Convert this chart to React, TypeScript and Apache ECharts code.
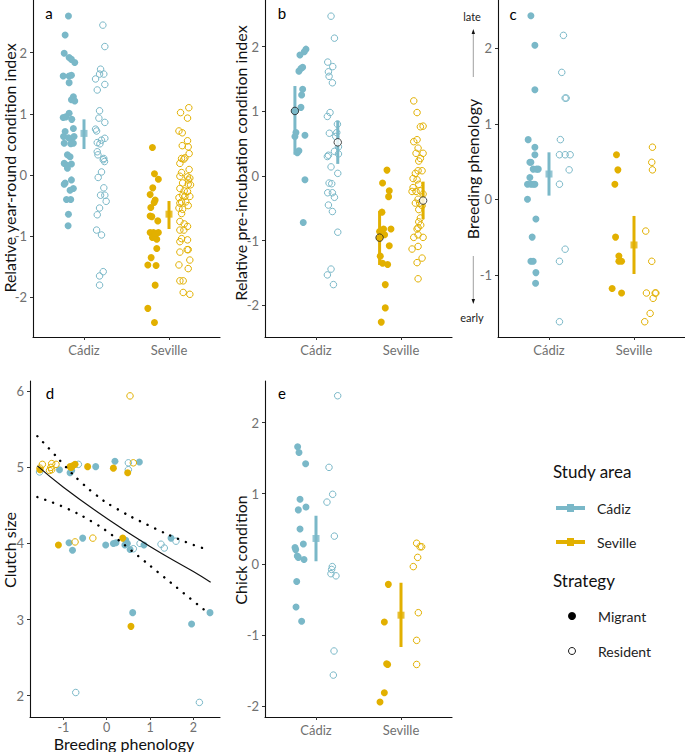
import React, { useEffect, useRef } from 'react';
import * as echarts from 'echarts';

const BLUE = '#7AB8C8';
const GOLD = '#E2B000';
const FONT = 'Lato';
const categories = ['Cádiz', 'Seville'];
const catTicks = [1, 2];
const yTicksA = [-2, -1, 0, 1, 2];
const yTicksC = [-1, 0, 1, 2];
const yTicksD = [2, 3, 4, 5, 6];
const xTicksD = [-1, 0, 1, 2];

// Panel a: relative year-round condition index
const aCadizMig = [[0.817,2.60],[0.778,2.29],[0.767,1.99],[0.825,1.92],[0.852,1.89],[0.891,1.84],[0.755,1.62],[0.825,1.62],[0.852,1.63],[0.825,1.51],[0.875,1.28],[0.852,1.23],[0.891,1.21],[0.825,1.01],[0.786,0.95],[0.755,0.94],[0.856,0.91],[0.875,0.76],[0.778,0.71],[0.759,0.63],[0.817,0.61],[0.852,0.58],[0.883,0.63],[0.767,0.52],[0.844,0.51],[0.875,0.52],[0.805,0.33],[0.836,0.30],[0.767,0.19],[0.798,0.16],[0.852,0.18],[0.805,0.11],[0.852,-0.08],[0.778,-0.13],[0.767,-0.15],[0.875,-0.22],[0.836,-0.25],[0.794,-0.40],[0.844,-0.40],[0.817,-0.64],[0.813,-0.83]];
const aCadizRes = [[1.222,2.45],[1.245,2.10],[1.195,1.73],[1.233,1.65],[1.183,1.65],[1.136,1.57],[1.245,1.48],[1.156,1.39],[1.183,1.05],[1.175,0.93],[1.245,0.86],[1.136,0.75],[1.148,0.72],[1.245,0.60],[1.206,0.57],[1.156,0.53],[1.187,0.51],[1.156,0.38],[1.164,0.33],[1.233,0.27],[1.226,0.25],[1.241,0.22],[1.206,0.05],[1.167,-0.04],[1.233,-0.21],[1.195,-0.33],[1.245,-0.33],[1.261,-0.43],[1.183,-0.54],[1.156,-0.65],[1.148,-0.90],[1.206,-0.98],[1.226,-1.58],[1.183,-1.65],[1.183,-1.80]];
const aSevMig = [[1.805,0.45],[1.829,0.02],[1.875,-0.07],[1.809,-0.21],[1.778,-0.32],[1.837,-0.41],[1.825,-0.45],[1.786,-0.53],[1.778,-0.67],[1.798,-0.68],[1.868,-0.75],[1.778,-0.94],[1.817,-0.94],[1.837,-0.98],[1.875,-0.94],[1.805,-1.02],[1.856,-1.05],[1.856,-1.20],[1.790,-1.35],[1.751,-1.47],[1.848,-1.48],[1.837,-1.80],[1.751,-2.18],[1.829,-2.41]];
const aSevRes = [[2.233,1.10],[2.136,1.02],[2.218,0.93],[2.117,0.72],[2.156,0.69],[2.218,0.56],[2.156,0.48],[2.226,0.46],[2.237,0.35],[2.148,0.27],[2.175,0.26],[2.187,0.28],[2.128,0.19],[2.237,0.09],[2.148,0.04],[2.128,-0.02],[2.218,-0.03],[2.245,-0.05],[2.226,-0.08],[2.160,-0.13],[2.226,-0.15],[2.253,-0.16],[2.128,-0.22],[2.179,-0.26],[2.218,-0.27],[2.160,-0.33],[2.117,-0.37],[2.187,-0.35],[2.245,-0.35],[2.148,-0.44],[2.128,-0.46],[2.198,-0.44],[2.226,-0.50],[2.117,-0.54],[2.160,-0.56],[2.148,-0.63],[2.128,-0.76],[2.179,-0.80],[2.218,-0.84],[2.128,-0.90],[2.175,-0.90],[2.148,-1.04],[2.128,-1.09],[2.218,-1.06],[2.214,-1.22],[2.226,-1.22],[2.245,-1.39],[2.128,-1.26],[2.226,-1.53],[2.117,-1.47],[2.128,-1.73],[2.167,-1.73],[2.167,-1.92],[2.245,-1.95]];
const aMeanX = [1.0, 2.0];
const aMean = [0.68, -0.64];
const aLo = [0.425, -0.883];
const aHi = [0.91, -0.425];

// Panel b: relative pre-incubation condition index
const bCadizMig = [[0.882,1.96],[0.862,1.92],[0.811,1.87],[0.843,1.68],[0.823,1.66],[0.799,1.62],[0.843,1.34],[0.831,1.25],[0.823,1.06],[0.752,1.00],[0.764,0.67],[0.752,0.61],[0.870,0.63],[0.780,0.36],[0.799,0.39],[0.870,-0.06],[0.850,-0.72]];
const bCadizRes = [[1.177,2.47],[1.217,2.13],[1.138,1.76],[1.197,1.69],[1.146,1.61],[1.154,1.54],[1.193,1.44],[1.165,0.98],[1.134,0.92],[1.157,0.66],[1.244,0.67],[1.252,0.80],[1.232,0.61],[1.264,0.45],[1.217,0.38],[1.264,0.34],[1.146,0.32],[1.134,0.30],[1.177,0.14],[1.256,0.04],[1.154,-0.11],[1.185,-0.12],[1.138,-0.26],[1.193,-0.26],[1.217,-0.33],[1.146,-0.45],[1.193,-0.55],[1.256,-0.87],[1.177,-1.44],[1.134,-1.53],[1.205,-1.68]];
const bSevMig = [[1.835,0.09],[1.783,-0.11],[1.862,-0.23],[1.854,-0.32],[1.776,-0.56],[1.795,-0.82],[1.748,-0.86],[1.882,-0.82],[1.807,-0.91],[1.748,-0.96],[1.862,-1.08],[1.756,-1.24],[1.783,-1.35],[1.843,-1.37],[1.815,-1.68],[1.815,-2.04],[1.768,-2.26]];
const bSevRes = [[2.150,1.16],[2.189,0.98],[2.228,0.76],[2.260,0.77],[2.150,0.53],[2.189,0.56],[2.201,0.43],[2.177,0.35],[2.260,0.35],[2.228,0.27],[2.209,0.23],[2.201,0.08],[2.248,0.08],[2.169,0.04],[2.142,-0.04],[2.189,-0.06],[2.209,-0.13],[2.142,-0.18],[2.130,-0.24],[2.177,-0.24],[2.228,-0.23],[2.260,-0.28],[2.201,-0.36],[2.169,-0.42],[2.220,-0.42],[2.209,-0.52],[2.248,-0.46],[2.228,-0.65],[2.209,-0.71],[2.232,-0.76],[2.201,-0.80],[2.189,-0.82],[2.150,-0.95],[2.201,-0.91],[2.260,-0.95],[2.130,-1.13],[2.201,-1.09],[2.189,-1.34],[2.248,-1.27],[2.201,-1.59]];
const bMeanX = [0.752, 1.256, 1.748, 2.26];
const bMean = [1.005, 0.52, -0.954, -0.381];
const bLo = [0.33, 0.186, -1.376, -0.67];
const bHi = [1.39, 0.856, -0.54, -0.088];

// Panel c: breeding phenology
const cCadizMig = [[0.787,2.43],[0.834,2.04],[0.834,1.45],[0.755,0.79],[0.834,0.69],[0.834,0.59],[0.775,0.49],[0.787,0.49],[0.814,0.40],[0.854,0.40],[0.874,0.40],[0.775,0.29],[0.747,0.20],[0.787,0.20],[0.814,0.20],[0.834,0.20],[0.747,0.00],[0.846,-0.26],[0.802,-0.50],[0.787,-0.82],[0.814,-0.82],[0.846,-0.97],[0.842,-1.11]];
const cCadizRes = [[1.170,2.17],[1.150,1.68],[1.190,1.34],[1.202,1.34],[1.134,0.79],[1.123,0.59],[1.190,0.59],[1.249,0.59],[1.237,0.39],[1.123,0.20],[1.190,-0.66],[1.123,-0.82],[1.123,-1.62]];
const cSevMig = [[1.794,0.59],[1.810,0.39],[1.775,0.20],[1.783,-0.50],[1.822,-0.75],[1.822,-0.82],[1.854,-0.82],[1.743,-1.18],[1.854,-1.24]];
const cSevRes = [[2.217,0.69],[2.209,0.49],[2.217,0.39],[2.138,-0.42],[2.209,-0.82],[2.146,-1.24],[2.249,-1.24],[2.257,-1.24],[2.225,-1.31],[2.190,-1.51],[2.126,-1.62]];
const cMeanX = [1.0, 2.0];
const cMean = [0.335, -0.604];
const cLo = [0.049, -0.988];
const cHi = [0.622, -0.22];

// Panel d: clutch size vs breeding phenology
const dCadizMig = [[-1.09,4.97],[-0.846,4.93],[-0.81,4.96],[-0.254,5.01],[0.19,5.08],[0.754,5.07],[-0.87,4.01],[-0.79,3.91],[-0.554,4.07],[-0.023,3.98],[0.154,4.0],[0.215,4.01],[0.44,4.04],[0.477,4.0],[0.42,3.98],[0.54,3.92],[0.86,3.98],[1.485,4.07],[0.6,3.09],[1.96,2.94],[2.385,3.09]];
const dCadizRes = [[-1.55,4.94],[-0.654,5.04],[0.5,5.06],[0.5,4.97],[0.77,4.0],[0.615,3.93],[1.254,3.99],[1.33,3.94],[1.6,4.03],[-0.715,2.04],[2.14,1.91]];
const dSevMig = [[-1.54,4.97],[-1.115,3.98],[-0.846,5.01],[-0.785,5.02],[-0.73,5.04],[-0.82,5.0],[-0.44,5.01],[0.154,4.99],[0.485,4.93],[0.37,4.07],[0.56,2.91]];
const dSevRes = [[0.538,5.94],[-1.485,5.04],[-1.27,5.05],[-1.17,5.04],[-1.29,5.0],[-1.27,4.97],[-1.32,4.96],[-1.54,4.99],[-0.73,4.02],[-0.32,4.07],[0.615,5.06]];
const fitX = [-1.6, -1, 0, 1, 2, 2.4];
const fitY = [5.02, 4.74, 4.33, 3.96, 3.63, 3.49];
const upX = [-1.6, -1.27, -0.95, -0.62, -0.25, 0.13, 0.96, 1.82, 2.27];
const upY = [5.41, 5.21, 5.01, 4.82, 4.64, 4.49, 4.24, 4.02, 3.93];
const loX = [-1.6, -0.92, -0.29, 0.1, 0.65, 1.21, 1.77, 2.31];
const loY = [4.61, 4.46, 4.27, 4.12, 3.87, 3.61, 3.35, 3.10];

// Panel e: chick condition
const eCadizMig = [[0.784,1.66],[0.800,1.58],[0.878,1.42],[0.812,0.92],[0.882,0.81],[0.792,0.77],[0.812,0.50],[0.851,0.29],[0.753,0.24],[0.761,0.21],[0.780,0.12],[0.792,0.10],[0.859,0.07],[0.773,-0.24],[0.765,-0.60],[0.831,-0.80]];
const eCadizRes = [[1.255,2.38],[1.153,1.37],[1.196,0.99],[1.129,0.88],[1.216,0.40],[1.192,-0.03],[1.184,-0.07],[1.176,-0.13],[1.235,-0.16],[1.212,-1.22],[1.204,-1.56]];
const eSevMig = [[1.851,-0.28],[1.804,-0.81],[1.831,-1.40],[1.843,-1.41],[1.804,-1.81],[1.753,-1.94]];
const eSevRes = [[2.184,0.30],[2.224,0.25],[2.243,0.25],[2.196,0.10],[2.145,-0.03],[2.204,-0.68],[2.184,-1.07],[2.184,-1.41]];
const eMeanX = [1.0, 2.0];
const eMean = [0.367, -0.715];
const eLo = [0.047, -1.162];
const eHi = [0.687, -0.259];

const grids = [
  { left: 33, top: 0, width: 187, height: 337 },
  { left: 265, top: 0, width: 187, height: 337 },
  { left: 498, top: 0, width: 187, height: 337 },
  { left: 30, top: 381, width: 190, height: 336 },
  { left: 265, top: 381, width: 187, height: 336 },
];
const yRanges = [[-2.648, 2.861], [-2.49, 2.72], [-1.822, 2.638], [1.718, 6.136], [-2.151, 2.588]];
const yTickSets = [yTicksA, yTicksA, yTicksC, yTicksD, yTicksA];

function pts(g: number, data: number[][], color: string, filled: boolean) {
  return {
    type: 'scatter', xAxisIndex: g, yAxisIndex: g, data, symbol: 'circle',
    symbolSize: filled ? 7 : 6.5, z: 2, silent: true,
    itemStyle: filled ? { color, opacity: 1 } : { color: 'rgba(255,255,255,0)', borderColor: color, borderWidth: 1, opacity: 1 },
  };
}
function bars(g: number, xs: number[], lo: number[], hi: number[], colors: string[]) {
  return xs.map((x, i) => ({
    type: 'line', xAxisIndex: g, yAxisIndex: g, data: [[x, lo[i]], [x, hi[i]]], symbol: 'none', silent: true,
    lineStyle: { color: colors[i], width: 3, cap: 'butt' }, z: 3,
  }));
}
function squares(g: number, xs: number[], m: number[], colors: string[]) {
  return xs.map((x, i) => ({
    type: 'scatter', xAxisIndex: g, yAxisIndex: g, data: [[x, m[i]]], symbol: 'rect', symbolSize: 7, silent: true,
    itemStyle: { color: colors[i] }, z: 4,
  }));
}

function txt(x: number, y: number, text: string, size: number, opts: any = {}) {
  return {
    type: 'text', x, y, rotation: opts.rotation || 0, silent: true,
    style: { text, fontSize: size, fontFamily: FONT, fill: opts.fill || '#000', fontWeight: opts.weight || 'normal', textAlign: opts.align || 'center', textVerticalAlign: 'middle' },
  };
}

export default function App() {
  const ref = useRef<HTMLDivElement>(null);
  useEffect(() => {
    if (!ref.current) return;
    const chart = echarts.init(ref.current, undefined, { renderer: 'svg' });
    const axisLine = { show: true, onZero: false, lineStyle: { color: '#111', width: 1.1 } };
    const xAxis = grids.map((_, g) => {
      const isD = g === 3;
      return {
        type: 'value', gridIndex: g, min: isD ? -1.771 : 0.4, max: isD ? 2.616 : 2.6,
        axisLine, splitLine: { show: false },
        axisTick: { show: true, length: 3, lineStyle: { color: '#333' }, customValues: isD ? xTicksD : catTicks },
        axisLabel: {
          show: true, customValues: isD ? xTicksD : catTicks, margin: isD ? 4 : 6,
          color: '#707070', fontSize: isD ? 12.5 : 13, fontFamily: FONT,
          formatter: (v: number) => (isD ? String(v) : categories[Math.round(v) - 1]),
        },
      };
    });
    const yAxis = grids.map((_, g) => ({
      type: 'value', gridIndex: g, min: yRanges[g][0], max: yRanges[g][1],
      axisLine, splitLine: { show: false },
      axisTick: { show: true, length: 3, lineStyle: { color: '#333' }, customValues: yTickSets[g] },
      axisLabel: { show: true, customValues: yTickSets[g], margin: 6, color: '#707070', fontSize: 13, fontFamily: FONT, formatter: (v: number) => String(v) },
    }));

    const series: any[] = [
      pts(0, aCadizMig, BLUE, true), pts(0, aCadizRes, BLUE, false), pts(0, aSevMig, GOLD, true), pts(0, aSevRes, GOLD, false),
      ...bars(0, aMeanX, aLo, aHi, [BLUE, GOLD]), ...squares(0, aMeanX, aMean, [BLUE, GOLD]),
      pts(1, bCadizMig, BLUE, true), pts(1, bCadizRes, BLUE, false), pts(1, bSevMig, GOLD, true), pts(1, bSevRes, GOLD, false),
      ...bars(1, bMeanX, bLo, bHi, [BLUE, BLUE, GOLD, GOLD]),
      ...bMeanX.map((x, i) => ({
        type: 'scatter', xAxisIndex: 1, yAxisIndex: 1, data: [[x, bMean[i]]], symbol: 'circle', symbolSize: 7.5, silent: true, z: 5,
        itemStyle: { color: i % 2 === 0 ? (i < 2 ? BLUE : GOLD) : '#ffffff', borderColor: '#222', borderWidth: 1 },
      })),
      pts(2, cCadizMig, BLUE, true), pts(2, cCadizRes, BLUE, false), pts(2, cSevMig, GOLD, true), pts(2, cSevRes, GOLD, false),
      ...bars(2, cMeanX, cLo, cHi, [BLUE, GOLD]), ...squares(2, cMeanX, cMean, [BLUE, GOLD]),
      pts(3, dCadizMig, BLUE, true), pts(3, dCadizRes, BLUE, false), pts(3, dSevMig, GOLD, true), pts(3, dSevRes, GOLD, false),
      {
        type: 'line', xAxisIndex: 3, yAxisIndex: 3, data: fitX.map((x, i) => [x, fitY[i]]), smooth: true, symbol: 'none', silent: true,
        lineStyle: { color: '#111', width: 1.2 }, z: 4,
      },
      {
        type: 'line', xAxisIndex: 3, yAxisIndex: 3, data: upX.map((x, i) => [x, upY[i]]), smooth: true, symbol: 'none', silent: true,
        lineStyle: { color: '#000', width: 2.4, type: [0.1, 8.3], cap: 'round' }, z: 4,
      },
      {
        type: 'line', xAxisIndex: 3, yAxisIndex: 3, data: loX.map((x, i) => [x, loY[i]]), smooth: true, symbol: 'none', silent: true,
        lineStyle: { color: '#000', width: 2.4, type: [0.1, 8.3], cap: 'round' }, z: 4,
      },
      pts(4, eCadizMig, BLUE, true), pts(4, eCadizRes, BLUE, false), pts(4, eSevMig, GOLD, true), pts(4, eSevRes, GOLD, false),
      ...bars(4, eMeanX, eLo, eHi, [BLUE, GOLD]), ...squares(4, eMeanX, eMean, [BLUE, GOLD]),
    ];

    const R = Math.PI / 2;
    const graphic: any[] = [
      txt(49, 13, 'a', 15), txt(282, 13, 'b', 15), txt(513, 14, 'c', 15), txt(50, 393, 'd', 15), txt(282, 393, 'e', 15),
      txt(9, 168, 'Relative year-round condition index', 16, { rotation: R, fill: '#111' }),
      txt(240, 163, 'Relative pre-incubation condition index', 16, { rotation: R, fill: '#111' }),
      txt(472, 169, 'Breeding phenology', 16, { rotation: R, fill: '#111' }),
      txt(9, 550, 'Clutch size', 16, { rotation: R, fill: '#111' }),
      txt(240, 550, 'Chick condition', 16, { rotation: R, fill: '#111' }),
      txt(124, 743, 'Breeding phenology', 16, { fill: '#111' }),
      txt(472, 16, 'late', 11, { fill: '#222' }),
      txt(472, 317, 'early', 11, { fill: '#222' }),
      { type: 'line', silent: true, shape: { x1: 473.3, y1: 33, x2: 473.3, y2: 77 }, style: { stroke: '#888', lineWidth: 0.8 } },
      { type: 'polygon', silent: true, shape: { points: [[473.3, 29], [471.6, 34], [475, 34]] }, style: { fill: '#111' } },
      { type: 'line', silent: true, shape: { x1: 473.3, y1: 256, x2: 473.3, y2: 300 }, style: { stroke: '#888', lineWidth: 0.8 } },
      { type: 'polygon', silent: true, shape: { points: [[473.3, 304], [471.6, 299], [475, 299]] }, style: { fill: '#111' } },
      // legend
      txt(553, 471, 'Study area', 17, { align: 'left', fill: '#111' }),
      { type: 'line', silent: true, shape: { x1: 556, y1: 508, x2: 585, y2: 508 }, style: { stroke: BLUE, lineWidth: 4 } },
      { type: 'rect', silent: true, shape: { x: 567, y: 504, width: 7, height: 8 }, style: { fill: BLUE } },
      txt(597, 508, 'Cádiz', 14, { align: 'left', fill: '#222' }),
      { type: 'line', silent: true, shape: { x1: 556, y1: 542, x2: 585, y2: 542 }, style: { stroke: GOLD, lineWidth: 4 } },
      { type: 'rect', silent: true, shape: { x: 567, y: 538, width: 7, height: 8 }, style: { fill: GOLD } },
      txt(597, 542, 'Seville', 14, { align: 'left', fill: '#222' }),
      txt(553, 580, 'Strategy', 17, { align: 'left', fill: '#111' }),
      { type: 'circle', silent: true, shape: { cx: 572, cy: 616, r: 4 }, style: { fill: '#000' } },
      txt(598, 616, 'Migrant', 14, { align: 'left', fill: '#222' }),
      { type: 'circle', silent: true, shape: { cx: 572, cy: 651, r: 3.5 }, style: { fill: '#fff', stroke: '#000', lineWidth: 0.9 } },
      txt(598, 651, 'Resident', 14, { align: 'left', fill: '#222' }),
    ];

    chart.setOption({
      animation: false,
      backgroundColor: '#fff',
      textStyle: { fontFamily: FONT },
      grid: grids.map((g) => ({ ...g, containLabel: false })),
      xAxis, yAxis, series, graphic,
    });
    return () => chart.dispose();
  }, []);
  return <div ref={ref} style={{ position: 'absolute', left: 0, top: 0, width: 685, height: 752 }} />;
}
